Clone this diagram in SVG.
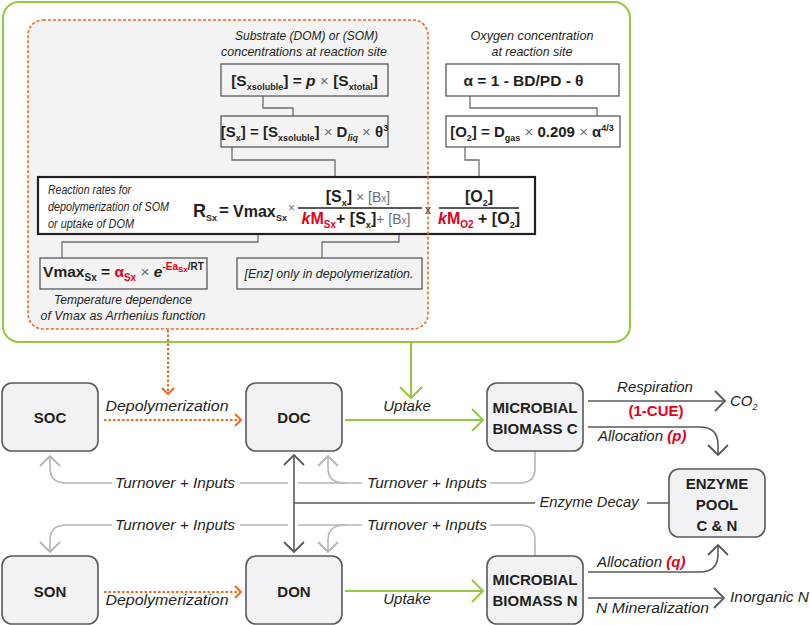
<svg xmlns="http://www.w3.org/2000/svg" width="810" height="625" viewBox="0 0 810 625">
<defs>
<style>
.t{font-family:"Liberation Sans",Arial,sans-serif;fill:#231f20}
.i{font-style:italic}
.b{font-weight:bold}
.g{fill:#6d6e71;font-weight:normal}
.r{fill:#e2001a}
.nd rect{fill:#f2f2f4;stroke:#58595b;stroke-width:1.6}
.nt{font-family:"Liberation Sans",Arial,sans-serif;font-weight:bold;font-size:15px;fill:#231f20;text-anchor:middle}
.fb{fill:none;stroke:#58595b;stroke-width:1.3}
.lb{font-family:"Liberation Sans",Arial,sans-serif;font-style:italic;font-size:15px;fill:#231f20}
.pc{fill:none;stroke:#6d6e71;stroke-width:1.3}
.lt{fill:none;stroke:#b5b5b5;stroke-width:1.6}
.dk{fill:none;stroke:#595a5c;stroke-width:1.6}
.gr{fill:none;stroke:#94c83d;stroke-width:2}
.or{fill:none;stroke:#ec6b1e;stroke-width:2;stroke-dasharray:2.5 2}
</style>
<marker id="mL" markerUnits="userSpaceOnUse" viewBox="-12 -12 24 24" markerWidth="24" markerHeight="24" refX="0" refY="0" orient="auto"><path d="M-10,-10 L0,0 L-10,10" fill="none" stroke="#b5b5b5" stroke-width="1.8"/></marker>
<marker id="mD" markerUnits="userSpaceOnUse" viewBox="-12 -12 24 24" markerWidth="24" markerHeight="24" refX="0" refY="0" orient="auto"><path d="M-10,-10 L0,0 L-10,10" fill="none" stroke="#595a5c" stroke-width="1.8"/></marker>
<marker id="mDs" markerUnits="userSpaceOnUse" viewBox="-12 -12 24 24" markerWidth="24" markerHeight="24" refX="0" refY="0" orient="auto-start-reverse"><path d="M-10,-10 L0,0 L-10,10" fill="none" stroke="#595a5c" stroke-width="1.8"/></marker>
<marker id="mG" markerUnits="userSpaceOnUse" viewBox="-12 -12 24 24" markerWidth="24" markerHeight="24" refX="0" refY="0" orient="auto"><path d="M-11,-11 L0,0 L-11,11" fill="none" stroke="#94c83d" stroke-width="2"/></marker>
<marker id="mO" markerUnits="userSpaceOnUse" viewBox="-12 -12 24 24" markerWidth="24" markerHeight="24" refX="0" refY="0" orient="auto"><path d="M-6,-6 L0,0 L-6,6" fill="none" stroke="#ec6b1e" stroke-width="2"/></marker>
</defs>
<rect width="810" height="625" fill="#ffffff"/>

<g id="panel">
<rect x="3" y="2" width="627" height="340" rx="16" fill="#ffffff" stroke="#94c83d" stroke-width="2"/>
<rect x="28" y="20" width="400" height="309" rx="15" fill="#f3f3f3"/>
<text class="t i" x="306.5" y="40" font-size="13.5" text-anchor="middle" textLength="143" lengthAdjust="spacingAndGlyphs">Substrate (DOM) or (SOM)</text>
<text class="t i" x="304" y="56" font-size="13.5" text-anchor="middle" textLength="166" lengthAdjust="spacingAndGlyphs">concentrations at reaction site</text>
<text class="t i" x="532" y="40" font-size="13.5" text-anchor="middle" textLength="123" lengthAdjust="spacingAndGlyphs">Oxygen concentration</text>
<text class="t i" x="532" y="56" font-size="13.5" text-anchor="middle" textLength="81" lengthAdjust="spacingAndGlyphs">at reaction site</text>
</g>

<g id="panel-connectors">
<path class="pc" d="M263,96 V108 H293 V116"/>
<path class="pc" d="M232,147 V160 H335 V177"/>
<path class="pc" d="M470,96 V108 H597 V116"/>
<path class="pc" d="M465,147 V160 H479 V177"/>
<path class="pc" d="M258,234 V242 H62 V258"/>
<path class="pc" d="M399,234 V242 H322 V258"/>
</g>

<g id="eq-soluble">
<rect class="fb" x="221" y="64" width="167" height="32"/>
<text class="t b" x="304.5" y="86" font-size="15.5" text-anchor="middle">[S<tspan font-size="9" dy="4">xsoluble</tspan><tspan dy="-4">] = </tspan><tspan font-style="italic">p</tspan><tspan class="g"> × </tspan>[S<tspan font-size="9" dy="4">xtotal</tspan><tspan dy="-4">]</tspan></text>
</g>
<g id="eq-sx">
<rect class="fb" x="221" y="116" width="167" height="31"/>
<text class="t b" x="304.5" y="137" font-size="15" text-anchor="middle">[S<tspan font-size="9" dy="4">x</tspan><tspan dy="-4">] = [S</tspan><tspan font-size="9" dy="4">xsoluble</tspan><tspan dy="-4">]</tspan><tspan class="g"> × </tspan>D<tspan font-size="9" font-style="italic" dy="4">liq</tspan><tspan class="g" dy="-4"> × </tspan>θ<tspan font-size="9" dy="-6">3</tspan></text>
</g>
<g id="eq-alpha">
<rect class="fb" x="446" y="64" width="173" height="32"/>
<text class="t b" x="523.5" y="86" font-size="15.5" text-anchor="middle">α = 1 - BD/PD - θ</text>
</g>
<g id="eq-o2">
<rect class="fb" x="446" y="116" width="174" height="31"/>
<text class="t b" x="532" y="137" font-size="15" text-anchor="middle">[O<tspan font-size="9" dy="4">2</tspan><tspan dy="-4">] = D</tspan><tspan font-size="9" dy="4">gas</tspan><tspan class="g" dy="-4"> × </tspan>0.209<tspan class="g"> × </tspan>α<tspan font-size="9" dy="-6">4/3</tspan></text>
</g>

<g id="eq-rate">
<rect x="38" y="177" width="497" height="57" fill="#ffffff" stroke="#231f20" stroke-width="2.2"/>
<text class="t i" x="48" y="194" font-size="12.5" textLength="83" lengthAdjust="spacingAndGlyphs">Reaction rates for</text>
<text class="t i" x="48" y="211" font-size="12.5" textLength="121" lengthAdjust="spacingAndGlyphs">depolymerization of SOM</text>
<text class="t i" x="48" y="228" font-size="12.5" textLength="86" lengthAdjust="spacingAndGlyphs">or uptake of DOM</text>
<text class="t b" x="193" y="217" font-size="18">R</text>
<text class="t b" x="206" y="221" font-size="9">Sx</text>
<text class="t b" x="219" y="216" font-size="17">=</text>
<text class="t b" x="233" y="217" font-size="16">Vmax</text>
<text class="t b" x="276" y="221" font-size="9">Sx</text>
<text class="t g" x="288" y="212" font-size="12">×</text>
<text class="t b" x="358" y="202" font-size="16" text-anchor="middle">[S<tspan font-size="9" dy="4">x</tspan><tspan dy="-4">]</tspan><tspan class="g" font-size="14"> × [B</tspan><tspan class="g" font-size="10">x</tspan><tspan class="g" font-size="14">]</tspan></text>
<path d="M298,208 H422" stroke="#231f20" stroke-width="1.3"/>
<text class="t b" x="356" y="224" font-size="16" text-anchor="middle"><tspan class="r" font-style="italic">k</tspan><tspan class="r">M</tspan><tspan class="r" font-size="10" dy="4">Sx</tspan><tspan dy="-4">+ [S</tspan><tspan font-size="9" dy="4">x</tspan><tspan dy="-4">]</tspan><tspan class="g" font-size="14">+ [B</tspan><tspan class="g" font-size="10">x</tspan><tspan class="g" font-size="14">]</tspan></text>
<text class="t" x="425" y="214" font-size="12" fill="#58595b">x</text>
<text class="t b" x="479" y="202" font-size="16" text-anchor="middle">[O<tspan font-size="9" dy="4">2</tspan><tspan dy="-4">]</tspan></text>
<path d="M439,208 H519" stroke="#231f20" stroke-width="1.3"/>
<text class="t b" x="479" y="224" font-size="16" text-anchor="middle"><tspan class="r" font-style="italic">k</tspan><tspan class="r">M</tspan><tspan class="r" font-size="10" dy="4">O2</tspan><tspan dy="-4"> + [O</tspan><tspan font-size="9" dy="4">2</tspan><tspan dy="-4">]</tspan></text>
</g>

<g id="eq-vmax">
<rect class="fb" x="40" y="258" width="167" height="31"/>
<text class="t b" x="123.5" y="277" font-size="15.5" text-anchor="middle">Vmax<tspan font-size="10" dy="4">Sx</tspan><tspan dy="-4"> = </tspan><tspan class="r">α</tspan><tspan class="r" font-size="10" dy="4">Sx</tspan><tspan class="g" dy="-4"> × </tspan><tspan font-style="italic">e</tspan><tspan class="r" font-size="10" dy="-7">-Ea</tspan><tspan class="r" font-size="8" dy="2">Sx</tspan><tspan font-size="10" dy="-2">/RT</tspan></text>
<text class="t i" x="123" y="304" font-size="13.5" text-anchor="middle" textLength="138" lengthAdjust="spacingAndGlyphs">Temperature dependence</text>
<text class="t i" x="123" y="320" font-size="13.5" text-anchor="middle" textLength="165" lengthAdjust="spacingAndGlyphs">of Vmax as Arrhenius function</text>
</g>

<g id="eq-enz">
<rect class="fb" x="237" y="258" width="185" height="31"/>
<text class="t i" x="329" y="278" font-size="13.5" text-anchor="middle" textLength="169" lengthAdjust="spacingAndGlyphs">[Enz] only in depolymerization.</text>
</g>

<rect x="28" y="20" width="400" height="309" rx="15" fill="none" stroke="#ec6b1e" stroke-width="1.6" stroke-dasharray="3 2"/>

<g id="connectors">
<path class="or" d="M168,330 V394" marker-end="url(#mO)"/>
<path class="gr" d="M411,343 V398" marker-end="url(#mG)"/>
<path class="or" d="M104,420 H241" marker-end="url(#mO)"/>
<path class="or" d="M104,592 H241" marker-end="url(#mO)"/>
<path class="gr" d="M345,420 H483" marker-end="url(#mG)"/>
<path class="gr" d="M345,591 H483" marker-end="url(#mG)"/>
<path class="dk" d="M588,401 H725" marker-end="url(#mD)"/>
<path class="dk" d="M588,427 H700 Q718,427 718,445 V455" marker-end="url(#mD)"/>
<path class="dk" d="M588,572 H700 Q718,572 718,554 V545" marker-end="url(#mD)"/>
<path class="dk" d="M588,598 H724" marker-end="url(#mD)"/>
<path class="dk" d="M294,455 V552" marker-start="url(#mDs)" marker-end="url(#mD)"/>
<path class="dk" d="M294,503 H535 M647,503 H669"/>
<path class="lt" d="M535,451 V468 Q535,483 520,483 H490"/>
<path class="lt" d="M362,483 H298 M288,483 H240"/>
<path class="lt" d="M345,483 Q328,483 328,468 V456" marker-end="url(#mL)"/>
<path class="lt" d="M112,483 H66 Q50,483 50,468 V456" marker-end="url(#mL)"/>
<path class="lt" d="M535,556 V540 Q535,525 520,525 H490"/>
<path class="lt" d="M362,525 H298 M288,525 H240"/>
<path class="lt" d="M345,525 Q328,525 328,540 V552" marker-end="url(#mL)"/>
<path class="lt" d="M112,525 H66 Q50,525 50,540 V552" marker-end="url(#mL)"/>
<text class="lb" x="167" y="411" text-anchor="middle" textLength="123" lengthAdjust="spacingAndGlyphs">Depolymerization</text>
<text class="lb" x="167" y="605" text-anchor="middle" textLength="123" lengthAdjust="spacingAndGlyphs">Depolymerization</text>
<text class="lb" x="407" y="411" text-anchor="middle">Uptake</text>
<text class="lb" x="407" y="604" text-anchor="middle">Uptake</text>
<text class="lb" x="655" y="392" text-anchor="middle">Respiration</text>
<text class="t b r" x="656" y="416" font-size="15" text-anchor="middle">(1-CUE)</text>
<text class="lb" x="730" y="406">CO<tspan font-size="9" dy="4">2</tspan></text>
<text class="lb" x="598" y="441">Allocation <tspan class="r" font-weight="bold">(p)</tspan></text>
<text class="lb" x="597" y="567">Allocation <tspan class="r" font-weight="bold">(q)</tspan></text>
<text class="lb" x="596" y="613" textLength="113" lengthAdjust="spacingAndGlyphs">N Mineralization</text>
<text class="lb" x="730" y="602" textLength="79" lengthAdjust="spacingAndGlyphs">Inorganic N</text>
<text class="lb" x="589" y="507" text-anchor="middle" textLength="99" lengthAdjust="spacingAndGlyphs">Enzyme Decay</text>
<text class="lb" x="175" y="488" text-anchor="middle" textLength="120" lengthAdjust="spacingAndGlyphs">Turnover + Inputs</text>
<text class="lb" x="427" y="488" text-anchor="middle" textLength="120" lengthAdjust="spacingAndGlyphs">Turnover + Inputs</text>
<text class="lb" x="175" y="530" text-anchor="middle" textLength="120" lengthAdjust="spacingAndGlyphs">Turnover + Inputs</text>
<text class="lb" x="427" y="530" text-anchor="middle" textLength="120" lengthAdjust="spacingAndGlyphs">Turnover + Inputs</text>
</g>

<g id="soc" class="nd"><rect x="2" y="383" width="96" height="68" rx="10"/><text class="nt" x="50" y="423">SOC</text></g>
<g id="doc" class="nd"><rect x="246" y="383" width="96" height="68" rx="10"/><text class="nt" x="294" y="423">DOC</text></g>
<g id="mbc" class="nd"><rect x="487" y="383" width="96" height="68" rx="10"/><text class="nt" x="535" y="413">MICROBIAL</text><text class="nt" x="535" y="434">BIOMASS C</text></g>
<g id="enzyme" class="nd"><rect x="669" y="469" width="96" height="68" rx="10"/><text class="nt" x="717" y="489">ENZYME</text><text class="nt" x="717" y="510">POOL</text><text class="nt" x="717" y="531">C &amp; N</text></g>
<g id="son" class="nd"><rect x="2" y="556" width="96" height="68" rx="10"/><text class="nt" x="50" y="597">SON</text></g>
<g id="don" class="nd"><rect x="246" y="556" width="96" height="68" rx="10"/><text class="nt" x="294" y="597">DON</text></g>
<g id="mbn" class="nd"><rect x="487" y="556" width="96" height="68" rx="10"/><text class="nt" x="535" y="585">MICROBIAL</text><text class="nt" x="535" y="606">BIOMASS N</text></g>
</svg>
